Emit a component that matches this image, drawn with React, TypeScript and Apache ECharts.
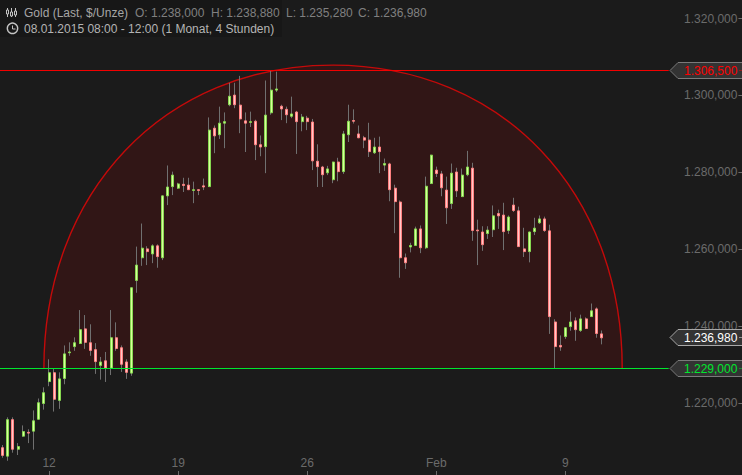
import React, { useEffect, useRef } from "react";
import * as echarts from "echarts";

const opens = [
  1208.4, 1206.2, 1215.7, 1208.0, 1211.4, 1212.4, 1212.7, 1215.8, 1219.9, 1225.6,
  1227.9, 1220.7, 1226.4, 1233.1, 1234.7, 1235.5, 1239.3, 1235.7, 1233.9, 1229.8,
  1231.0, 1229.1, 1237.0, 1234.4, 1230.7, 1227.8, 1251.9, 1257.8, 1260.1, 1258.8,
  1260.9, 1257.8, 1273.9, 1276.3, 1275.9, 1276.9, 1276.7, 1275.3, 1275.5, 1276.5,
  1276.3, 1291.5, 1289.8, 1292.8, 1297.6, 1300.1, 1297.5, 1293.4, 1293.0, 1293.3,
  1287.2, 1286.7, 1295.5, 1301.4, 1297.2, 1296.4, 1294.6, 1295.7, 1293.2, 1294.1,
  1293.1, 1282.9, 1281.4, 1279.9, 1278.1, 1282.7, 1280.2, 1289.8, 1293.5, 1290.0,
  1289.0, 1288.4, 1285.1, 1286.6, 1281.9, 1282.2, 1275.9, 1272.3, 1257.8, 1260.6,
  1261.0, 1265.3, 1260.4, 1277.1, 1280.6, 1279.6, 1275.4, 1271.9, 1280.1, 1273.7,
  1279.4, 1281.1, 1265.0, 1264.5, 1264.1, 1265.1, 1269.3, 1268.9, 1264.9, 1271.5,
  1270.0, 1260.1, 1259.4, 1264.6, 1266.9, 1267.9, 1264.8, 1241.1, 1235.0, 1237.3,
  1239.9, 1241.4, 1238.9, 1241.9, 1242.5, 1244.5, 1238.0,
];
const closes = [
  1206.4, 1215.7, 1208.0, 1208.7, 1212.6, 1212.2, 1215.4, 1220.1, 1222.7, 1227.9,
  1221.0, 1226.3, 1232.8, 1233.3, 1235.7, 1239.1, 1235.8, 1233.7, 1230.8, 1230.7,
  1229.1, 1237.0, 1234.2, 1230.1, 1228.0, 1250.0, 1255.9, 1260.3, 1259.4, 1260.9,
  1258.1, 1273.9, 1276.2, 1279.3, 1277.0, 1276.6, 1275.5, 1275.5, 1275.3, 1276.2,
  1291.0, 1289.5, 1292.8, 1293.2, 1299.8, 1297.6, 1293.9, 1292.8, 1293.2, 1287.2,
  1286.6, 1294.9, 1301.4, 1301.7, 1296.5, 1295.0, 1295.2, 1293.2, 1294.4, 1293.2,
  1283.0, 1281.5, 1279.4, 1280.9, 1282.7, 1280.2, 1290.0, 1293.3, 1293.3, 1289.0,
  1288.4, 1285.4, 1286.6, 1285.4, 1282.3, 1275.5, 1272.4, 1257.8, 1256.5, 1261.0,
  1265.3, 1260.4, 1276.4, 1284.5, 1279.7, 1276.0, 1270.8, 1279.8, 1275.2, 1279.3,
  1281.4, 1264.9, 1264.8, 1261.2, 1265.0, 1268.7, 1268.7, 1264.6, 1268.4, 1270.1,
  1260.7, 1259.4, 1264.5, 1265.5, 1267.9, 1264.9, 1242.5, 1234.7, 1234.6, 1239.6,
  1241.1, 1239.1, 1241.9, 1239.4, 1244.0, 1238.1, 1236.98,
];
const lows = [
  1205.8, 1205.0, 1207.1, 1206.5, 1211.3, 1209.6, 1207.9, 1215.7, 1218.3, 1224.4,
  1217.8, 1218.5, 1224.9, 1232.3, 1233.6, 1235.4, 1234.1, 1232.3, 1227.6, 1226.1,
  1225.5, 1227.3, 1233.6, 1228.1, 1226.3, 1227.1, 1248.7, 1255.7, 1255.9, 1256.4,
  1255.2, 1257.2, 1271.5, 1274.1, 1275.7, 1274.9, 1275.4, 1272.0, 1274.1, 1275.4,
  1276.2, 1285.0, 1288.7, 1286.3, 1297.2, 1296.7, 1290.2, 1285.3, 1291.8, 1283.2,
  1284.2, 1279.8, 1295.0, 1300.9, 1293.6, 1292.8, 1294.1, 1284.8, 1290.7, 1291.0,
  1280.6, 1276.2, 1276.2, 1279.3, 1277.2, 1277.7, 1279.6, 1287.9, 1292.7, 1288.9,
  1286.3, 1284.0, 1284.8, 1279.8, 1280.4, 1272.5, 1264.2, 1252.6, 1254.9, 1259.2,
  1260.9, 1259.0, 1260.1, 1277.0, 1278.8, 1273.8, 1266.6, 1270.5, 1273.6, 1273.6,
  1279.0, 1262.2, 1255.9, 1259.6, 1262.7, 1263.2, 1265.3, 1259.8, 1264.0, 1269.7,
  1260.6, 1258.0, 1256.6, 1263.7, 1266.6, 1264.5, 1238.0, 1229.0, 1233.6, 1236.7,
  1238.8, 1236.2, 1238.5, 1239.3, 1242.4, 1237.0, 1235.28,
];
const highs = [
  1209.1, 1216.3, 1216.3, 1209.6, 1214.2, 1213.2, 1218.1, 1221.2, 1224.1, 1231.4,
  1229.0, 1228.0, 1235.0, 1235.8, 1237.1, 1244.2, 1242.9, 1240.5, 1235.6, 1232.0,
  1233.3, 1244.2, 1241.0, 1235.0, 1231.4, 1250.1, 1260.7, 1266.7, 1260.8, 1261.3,
  1261.3, 1274.0, 1281.8, 1280.2, 1277.3, 1278.6, 1278.6, 1277.6, 1275.5, 1278.4,
  1294.3, 1292.2, 1297.1, 1295.6, 1303.3, 1303.3, 1305.1, 1295.6, 1295.8, 1293.7,
  1289.6, 1303.9, 1306.6, 1306.2, 1297.6, 1297.1, 1299.7, 1296.0, 1295.2, 1294.7,
  1293.9, 1287.3, 1281.7, 1281.7, 1282.8, 1283.8, 1290.8, 1297.6, 1296.4, 1292.2,
  1289.5, 1292.9, 1289.0, 1289.3, 1283.6, 1282.5, 1276.8, 1272.7, 1258.9, 1261.7,
  1265.9, 1266.2, 1278.9, 1284.6, 1281.5, 1280.4, 1278.9, 1282.3, 1281.2, 1281.0,
  1285.6, 1282.5, 1267.7, 1266.0, 1266.0, 1271.4, 1270.3, 1272.1, 1268.8, 1273.4,
  1271.1, 1265.6, 1264.6, 1268.2, 1268.8, 1268.5, 1266.4, 1241.8, 1237.6, 1239.7,
  1243.8, 1242.3, 1243.0, 1242.3, 1245.9, 1244.9, 1238.88,
];

const xTickLabels = ["12", "19", "26", "Feb", "9"];
const xTickIndexes = [9, 34, 59, 84, 109];
const yTickValues = [1220, 1240, 1260, 1280, 1300, 1320];
const bandCount = 143;

const resistance = 1306.5;
const support = 1229;
const archTop = 1307.9;
const archStart = 8;
const archEnd = 120;
const levelEnd = 129;
const lastClose = 1236.98;

const fmt = (v: number) => {
  const s = v.toFixed(3).replace(".", ",");
  return s.slice(0, 1) + "." + s.slice(1);
};

const headerFields = [
  { t: "O: 1.238,000", x: 135 },
  { t: "H: 1.238,880", x: 211 },
  { t: "L: 1.235,280", x: 286 },
  { t: "C: 1.236,980", x: 358 },
];

export default function App() {
  const ref = useRef<HTMLDivElement>(null);
  useEffect(() => {
    document.body.style.margin = "0";
    const chart = echarts.init(ref.current!, null, { renderer: "svg" });
    const font = "Liberation Sans";
    const categories = Array.from({ length: bandCount }, (_, i) => {
      const k = xTickIndexes.indexOf(i);
      return k >= 0 ? xTickLabels[k] : String(i);
    });
    const wicks = opens.map((o, i) => [o, closes[i], lows[i], highs[i]]);
    const bodies = opens.map((o, i) => [o, closes[i], Math.min(o, closes[i]), Math.max(o, closes[i])]);
    const levelData = [
      [resistance, "#f20000"],
      [support, "#00e62e"],
    ];
    const tagData = [
      [resistance, "#ff0000", "#7a7a7a"],
      [lastClose, "#ffffff", "#a8a8a8"],
      [support, "#00e62e", "#7a7a7a"],
    ];
    const axisGrey = "#6b6b6b";
    const iconGrey = "#c4c4c4";
    chart.setOption({
      animation: false,
      backgroundColor: "#1b1b1b",
      grid: { left: -0.6, top: 0, width: 739.02, height: 475 },
      xAxis: {
        type: "category",
        data: categories,
        boundaryGap: true,
        position: "bottom",
        axisLine: { show: false },
        axisTick: {
          show: true,
          inside: true,
          length: 4,
          alignWithLabel: true,
          interval: (i: number) => xTickIndexes.includes(i),
          lineStyle: { color: axisGrey },
        },
        axisLabel: {
          show: true,
          inside: true,
          margin: 6,
          interval: (i: number) => xTickIndexes.includes(i),
          color: axisGrey,
          fontFamily: font,
          fontSize: 12,
        },
        splitLine: { show: false },
      },
      yAxis: {
        type: "value",
        position: "right",
        min: 1201.303,
        max: 1324.835,
        axisLine: { show: false },
        splitLine: { show: false },
        axisTick: {
          show: true,
          length: 4,
          customValues: yTickValues,
          lineStyle: { color: axisGrey },
        },
        axisLabel: {
          show: true,
          inside: true,
          margin: 1,
          customValues: yTickValues,
          color: axisGrey,
          fontFamily: font,
          fontSize: 12,
          formatter: (v: number) => fmt(v),
        },
      },
      series: [
        {
          type: "custom",
          name: "Arch",
          z: 1,
          data: [[archStart, support, archEnd, archTop]],
          encode: { x: [0, 2], y: [1, 3] },
          renderItem: (_p: any, api: any) => {
            const a = api.coord([api.value(0), api.value(1)]);
            const b = api.coord([api.value(2), api.value(1)]);
            const t = api.coord([api.value(0), api.value(3)]);
            const cx = (a[0] + b[0]) / 2;
            const rx = (b[0] - a[0]) / 2;
            const ry = a[1] - t[1];
            const k = 0.583;
            const d =
              `M ${a[0]} ${a[1]} C ${a[0]} ${a[1] - k * ry} ${cx - k * rx} ${t[1]} ${cx} ${t[1]} ` +
              `C ${cx + k * rx} ${t[1]} ${b[0]} ${a[1] - k * ry} ${b[0]} ${a[1]}`;
            return {
              type: "path",
              shape: { pathData: d, layout: "center", x: a[0], y: t[1], width: b[0] - a[0], height: ry },
              style: { fill: "#311616", stroke: "#c40a0a", lineWidth: 1.4 },
            };
          },
        },
        {
          type: "candlestick",
          name: "Wicks",
          z: 2,
          barWidth: 0,
          data: wicks,
          itemStyle: {
            color: "#707070",
            color0: "#707070",
            borderColor: "#707070",
            borderColor0: "#707070",
            borderColorDoji: "#707070",
            borderWidth: 1,
          },
        },
        {
          type: "candlestick",
          name: "Gold",
          z: 3,
          barWidth: 2.5,
          data: bodies,
          itemStyle: {
            color: "#d8ff9c",
            color0: "#ffc8c8",
            borderColor: "#86d850",
            borderColor0: "#ff8080",
            borderColorDoji: "#86d850",
            borderWidth: 1,
          },
        },
        {
          type: "custom",
          name: "Levels",
          z: 4,
          clip: false,
          data: levelData,
          encode: { y: 0 },
          renderItem: (p: any, api: any) => {
            const y = api.coord([0, api.value(0)])[1];
            const end = api.coord([levelEnd, api.value(0)])[0];
            return {
              type: "line",
              shape: { x1: 0, y1: y, x2: end, y2: y },
              style: { stroke: levelData[p.dataIndex][1], lineWidth: 1 },
            };
          },
        },
        {
          type: "custom",
          name: "Tags",
          z: 6,
          clip: false,
          data: tagData,
          encode: { y: 0 },
          renderItem: (_p: any, api: any) => {
            const v = api.value(0);
            const i = _p.dataIndex;
            const [, col, bord] = tagData[i] as [number, string, string];
            const y = Math.round(api.coord([0, v])[1] - 0.5) + 0.5;
            return {
              type: "group",
              children: [
                {
                  type: "polygon",
                  shape: {
                    points: [
                      [670, y],
                      [678, y - 8],
                      [745, y - 8],
                      [745, y + 8],
                      [678, y + 8],
                    ],
                  },
                  style: { fill: "#333333", stroke: bord, lineWidth: 1 },
                },
                {
                  type: "line",
                  shape: { x1: 739, y1: y, x2: 742, y2: y },
                  style: { stroke: col, lineWidth: 1, opacity: 0.45 },
                },
                {
                  type: "text",
                  x: 684,
                  y,
                  style: {
                    text: fmt(v),
                    fill: col,
                    font: `12px "${font}"`,
                    verticalAlign: "middle",
                  },
                },
              ],
            };
          },
        },
      ],
      graphic: [
        { type: "rect", shape: { x: 0, y: 0, width: 282, height: 37 }, style: { fill: "#171717" }, z: 10 },
        { type: "line", shape: { x1: 7.5, y1: 8, x2: 7.5, y2: 17 }, style: { stroke: iconGrey }, z: 11 },
        { type: "line", shape: { x1: 11.5, y1: 8, x2: 11.5, y2: 17 }, style: { stroke: iconGrey }, z: 11 },
        { type: "line", shape: { x1: 15.5, y1: 8, x2: 15.5, y2: 17 }, style: { stroke: iconGrey }, z: 11 },
        { type: "rect", shape: { x: 6.5, y: 10, width: 2, height: 4 }, style: { fill: "#171717", stroke: iconGrey }, z: 11 },
        { type: "rect", shape: { x: 10.5, y: 12, width: 2, height: 4 }, style: { fill: "#171717", stroke: iconGrey }, z: 11 },
        { type: "rect", shape: { x: 14.5, y: 11, width: 2, height: 4 }, style: { fill: "#171717", stroke: iconGrey }, z: 11 },
        { type: "circle", shape: { cx: 12.5, cy: 28.3, r: 5.2 }, style: { fill: "none", stroke: iconGrey, lineWidth: 1.4 }, z: 11 },
        { type: "polyline", shape: { points: [[12.5, 25.5], [12.5, 29], [15.5, 29]] }, style: { fill: "none", stroke: iconGrey }, z: 11 },
        {
          type: "text",
          x: 24,
          y: 13,
          style: { text: "Gold (Last, $/Unze)", fill: "#a6a6a6", font: `12px "${font}"`, verticalAlign: "middle" },
          z: 11,
        },
        ...headerFields.map((f) => ({
          type: "text",
          x: f.x,
          y: 13,
          style: { text: f.t, fill: "#808080", font: `12px "${font}"`, verticalAlign: "middle" },
          z: 11,
        })),
        {
          type: "text",
          x: 24,
          y: 29,
          style: {
            text: "08.01.2015 08:00 - 12:00 (1 Monat, 4 Stunden)",
            fill: "#b4b4b4",
            font: `12px "${font}"`,
            verticalAlign: "middle",
          },
          z: 11,
        },
      ],
    });
    return () => chart.dispose();
  }, []);
  return <div ref={ref} style={{ width: 742, height: 475, position: "absolute", left: 0, top: 0 }} />;
}
